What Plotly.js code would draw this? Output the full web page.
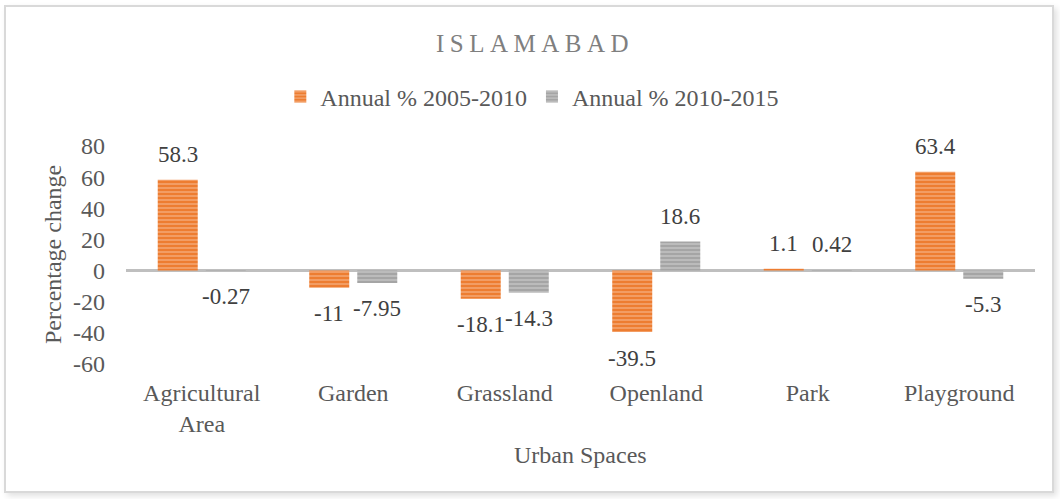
<!DOCTYPE html>
<html>
<head>
<meta charset="utf-8">
<script src="https://cdn.plot.ly/plotly-3.0.1.min.js"></script>
<style>
html,body{margin:0;padding:0;background:#fff;}
#wrap{position:relative;width:1060px;height:499px;overflow:hidden;}
#frame{position:absolute;left:4px;top:5px;width:1046px;height:484px;border:2px solid #d9d9d9;box-shadow:3px 3px 6px rgba(0,0,0,0.12);background:#fff;}
#chart{position:absolute;left:0;top:0;width:1060px;height:499px;}
</style>
</head>
<body>
<div id="wrap"><div id="frame"></div><div id="chart"></div></div>
<script>
var categories = ["Agricultural<br>Area", "Garden", "Grassland", "Openland", "Park", "Playground"];
var series1Name = "Annual % 2005-2010";
var series2Name = "Annual % 2010-2015";
var series1 = [58.3, -11, -18.1, -39.5, 1.1, 63.4];
var series2 = [-0.27, -7.95, -14.3, 18.6, 0.42, -5.3];
var yTicks = [80, 60, 40, 20, 0, -20, -40, -60];

var FONT = "Liberation Serif";
var TXT = "#595959";
var SZ = 24;

function trace(name, vals, col, fg) {
  return {
    type: "bar", name: name, x: categories, y: vals,
    marker: {color: col, line: {width: 0},
      pattern: {shape: "-", fgcolor: fg, size: 4, solidity: 0.35, fillmode: "overlay"}},
    hoverinfo: "skip"
  };
}

var data = [
  trace(series1Name, series1, "#ED7D31", "#FBD9C2"),
  trace(series2Name, series2, "#A5A5A5", "#E4E4E4")
];

// data labels built from the series arrays
var annotations = [];
[series1, series2].forEach(function(vals, si) {
  vals.forEach(function(v, i) {
    annotations.push({
      xref: "x", yref: "y", x: categories[i], y: v, text: String(v),
      showarrow: false, xanchor: "center", yanchor: "middle",
      xshift: si === 0 ? -24 : 24, yshift: v >= 0 ? 25 : -26,
      font: {family: FONT, size: 23, color: "#404040"}
    });
  });
});
annotations.push({
  xref: "paper", yref: "paper", x: (53 - 126) / 909, y: 0.5, textangle: -90,
  text: "Percentage change", showarrow: false, xanchor: "center", yanchor: "middle",
  font: {family: FONT, size: SZ, color: TXT}
});
annotations.push({
  xref: "paper", yref: "paper", x: 0.5, y: (364 - 455) / 218,
  text: "Urban Spaces", showarrow: false, xanchor: "center", yanchor: "middle",
  font: {family: FONT, size: SZ, color: TXT}
});

var layout = {
  width: 1060, height: 499,
  margin: {l: 126, r: 25, t: 146, b: 135, pad: 0},
  paper_bgcolor: "rgba(0,0,0,0)", plot_bgcolor: "rgba(0,0,0,0)",
  font: {family: FONT, size: SZ, color: TXT},
  title: {text: "ISLAMABAD", font: {family: FONT, size: 25, color: "#7f7f7f"},
          x: (532.5 + 2.5) / 1060, xanchor: "center", y: 1 - 43/499, yanchor: "middle"},
  barmode: "group", bargap: 0.366, bargroupgap: 0.167,
  showlegend: true,
  legend: {orientation: "h", x: 0.447, xanchor: "center", y: 1.225, yanchor: "middle",
           font: {family: FONT, size: SZ, color: TXT}, itemwidth: 30, traceorder: "normal"},
  xaxis: {type: "category", showline: false, showgrid: false, ticks: "",
          tickfont: {family: FONT, size: SZ, color: TXT}, ticklabelstandoff: 12,
          automargin: false},
  yaxis: {range: [-60, 80], tickvals: yTicks, ticktext: yTicks.map(String),
          showgrid: false, showline: false, ticks: "",
          zeroline: true, zerolinecolor: "#bfbfbf", zerolinewidth: 3,
          tickfont: {family: FONT, size: SZ, color: TXT}, ticklabelstandoff: 20,
          automargin: false},
  annotations: annotations
};

Plotly.newPlot("chart", data, layout, {displayModeBar: false, staticPlot: true}).then(function(gd) {
  var t = gd.querySelector(".gtitle");
  if (t) { t.style.letterSpacing = "5.5px"; }
});
</script>
</body>
</html>
